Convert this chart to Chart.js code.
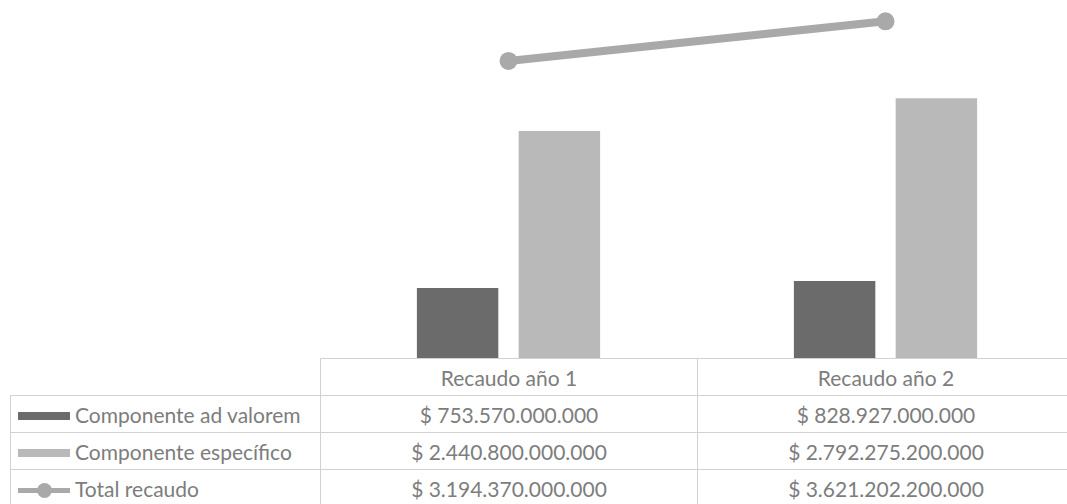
<!DOCTYPE html>
<html>
<head>
<meta charset="utf-8">
<script src="https://cdn.jsdelivr.net/npm/chart.js@4/dist/chart.umd.min.js"></script>
<style>
  html, body { margin: 0; padding: 0; background: #fff; overflow: hidden; width: 1100px; height: 504px; }
  #wrap { position: absolute; left: 0; top: 0; width: 1074px; height: 358px; }
  #tabla { position: absolute; top: 358px; left: 0; border-collapse: collapse; table-layout: fixed;
           font-family: Lato, "Open Sans", sans-serif; font-size: 21px; color: #7d7d7d; }
  #tabla td { border: 1px solid #d2d2d2; height: 36px; padding: 0; text-align: center; white-space: nowrap; overflow: hidden; }
  #tabla td.serie { text-align: left; padding-left: 7px; }
  #tabla td.vacio { border: none; border-bottom: 1px solid #d2d2d2; }
  .llave { display: inline-block; width: 52px; height: 8px; vertical-align: middle; margin-right: 5px; position: relative; top: -1px; }
  .llave.linea { height: 5px; }
  .llave.linea i { position: absolute; left: 19px; top: -5px; width: 15px; height: 15px; border-radius: 50%; background: inherit; }
</style>
</head>
<body>
<div id="wrap"><canvas id="grafico"></canvas></div>
<table id="tabla"></table>
<script>
const categorias = ['Recaudo año 1', 'Recaudo año 2'];
const adValorem = [753570000000, 828927000000];
const especifico = [2440800000000, 2792275200000];
const totalRecaudo = [3194370000000, 3621202200000];
const series = ['Componente ad valorem', 'Componente específico', 'Total recaudo'];

const colores = ['#6b6b6b', '#b9b9b9', '#a9a9a9'];

const formato = (v) => '$ ' + v.toString().replace(/\B(?=(\d{3})+(?!\d))/g, '.');

const chart = new Chart(document.getElementById('grafico'), {
    type: 'bar',
    data: {
        labels: categorias,
        datasets: [
            {
                type: 'line',
                label: series[2],
                data: totalRecaudo,
                borderColor: colores[2],
                backgroundColor: colores[2],
                borderWidth: 8,
                pointRadius: 9,
                pointBackgroundColor: colores[2],
                pointBorderWidth: 0,
                order: 0
            },
            {
                label: series[0],
                data: adValorem,
                backgroundColor: colores[0],
                categoryPercentage: 0.54,
                barPercentage: 0.8,
                order: 1
            },
            {
                label: series[1],
                data: especifico,
                backgroundColor: colores[1],
                categoryPercentage: 0.54,
                barPercentage: 0.8,
                order: 1
            }
        ]
    },
    options: {
        responsive: true,
        maintainAspectRatio: false,
        animation: false,
        layout: { autoPadding: false, padding: { left: 320, right: 0, top: 0, bottom: 0 } },
        plugins: { legend: { display: false }, tooltip: { enabled: false } },
        scales: {
            x: { display: false, offset: true },
            y: { display: false, min: 0, max: 3850000000000 }
        }
    }
});

function armarTabla() {
    const xs = chart.scales.x;
    const anchoCat = xs.width / categorias.length;
    const izq = 10;
    const anchoSerie = xs.left - izq;
    const tabla = document.getElementById('tabla');
    tabla.style.left = izq + 'px';
    let html = '<colgroup><col style="width:' + anchoSerie + 'px">';
    categorias.forEach(() => { html += '<col style="width:' + anchoCat + 'px">'; });
    html += '</colgroup><tr><td class="vacio"></td>';
    categorias.forEach(c => { html += '<td>' + c + '</td>'; });
    html += '</tr>';
    const valores = [adValorem, especifico, totalRecaudo];
    series.forEach((s, i) => {
        const llave = i === 2
            ? '<span class="llave linea" style="background:' + colores[i] + '"><i></i></span>'
            : '<span class="llave" style="background:' + colores[i] + '"></span>';
        html += '<tr><td class="serie">' + llave + s + '</td>';
        valores[i].forEach(v => { html += '<td>' + formato(v) + '</td>'; });
        html += '</tr>';
    });
    tabla.innerHTML = html;
    tabla.style.width = (anchoSerie + anchoCat * categorias.length) + 'px';
}
armarTabla();
</script>
</body>
</html>
